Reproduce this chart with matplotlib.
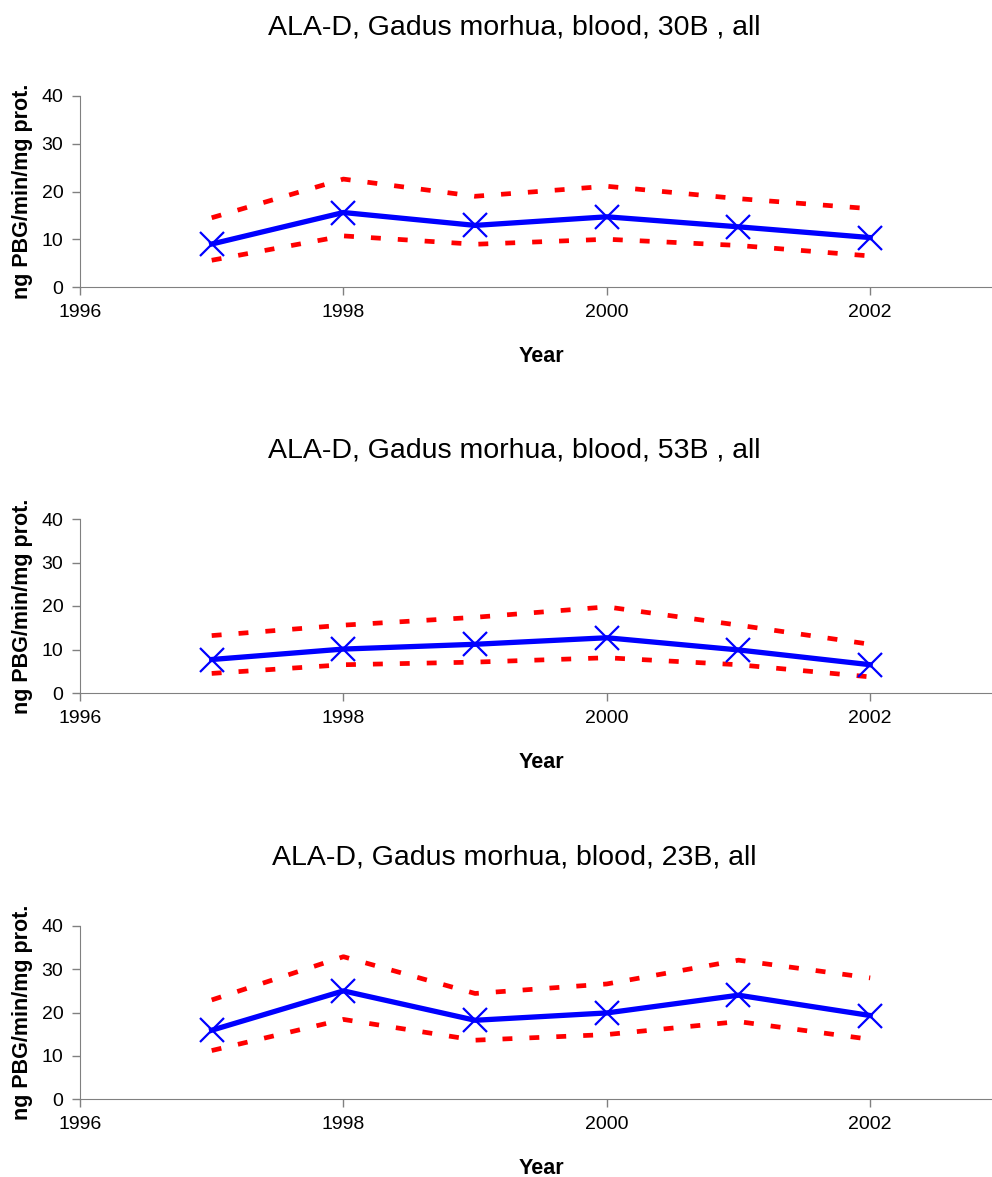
import matplotlib
matplotlib.use("Agg")
import matplotlib.pyplot as plt

plt.rcParams['font.family'] = ['Liberation Sans', 'DejaVu Sans']

years = [1997, 1998, 1999, 2000, 2001, 2002]

titles = [
    "ALA-D, Gadus morhua, blood, 30B , all",
    "ALA-D, Gadus morhua, blood, 53B , all",
    "ALA-D, Gadus morhua, blood, 23B, all",
]

mean_30B = [9.0, 15.6, 12.9, 14.7, 12.6, 10.35]
upper_30B = [14.5, 22.6, 19.0, 21.1, 18.5, 16.4]
lower_30B = [5.6, 10.7, 8.95, 10.0, 8.7, 6.5]

mean_53B = [7.7, 10.1, 11.2, 12.7, 9.9, 6.5]
upper_53B = [13.2, 15.6, 17.4, 19.8, 15.6, 11.2]
lower_53B = [4.5, 6.5, 7.1, 8.1, 6.5, 3.7]

mean_23B = [15.9, 25.0, 18.2, 19.9, 24.0, 19.3]
upper_23B = [22.9, 32.9, 24.4, 26.6, 32.1, 28.0]
lower_23B = [11.2, 18.4, 13.6, 14.9, 17.9, 13.8]

x_ticks = [1996, 1998, 2000, 2002]
y_ticks = [0, 10, 20, 30, 40]

panels = [
    (titles[0], mean_30B, upper_30B, lower_30B),
    (titles[1], mean_53B, upper_53B, lower_53B),
    (titles[2], mean_23B, upper_23B, lower_23B),
]

W, H = 992, 1177
fig = plt.figure(figsize=(W / 100, H / 100), dpi=100)

# pixel boxes (top, bottom) of each axes
boxes = [(96, 287), (519, 693), (926, 1099)]
left_px, right_px = 80, 992

for (title, mean, up, lo), (top, bot) in zip(panels, boxes):
    ax = fig.add_axes([left_px / W, 1 - bot / H, (right_px - left_px) / W, (bot - top) / H])
    ax.plot(years, up, color='#ff0000', lw=3.4, dashes=(2.1, 3.6), dash_capstyle='butt')
    ax.plot(years, lo, color='#ff0000', lw=3.4, dashes=(2.1, 3.6), dash_capstyle='butt')
    ax.plot(years, mean, color='#0000ff', lw=3.8, marker='x', ms=17, mew=1.6)
    ax.set_xlim(1996, 1996 + (right_px - left_px) / 131.7)
    ax.set_ylim(0, 40)
    ax.set_xticks(x_ticks)
    ax.set_yticks(y_ticks)
    ax.tick_params(axis='both', direction='out', length=6, width=1, labelsize=14)
    ax.tick_params(axis='x', pad=6)
    ax.tick_params(axis='y', pad=6)
    ax.spines['top'].set_visible(False)
    ax.spines['right'].set_visible(False)
    ax.spines['left'].set_color('#808080')
    ax.spines['bottom'].set_color('#808080')
    ax.tick_params(colors='#808080', labelcolor='black')
    ax.set_xlabel("Year", fontsize=15.5, fontweight='bold', labelpad=18,
                  x=(541 - left_px) / (right_px - left_px))
    ax.set_ylabel("ng PBG/min/mg prot.", fontsize=15.5, fontweight='bold', labelpad=6)
    ax.set_title(title, fontsize=20.5, pad=44, x=(514 - left_px) / (right_px - left_px))

fig.savefig("out.png", dpi=100)
